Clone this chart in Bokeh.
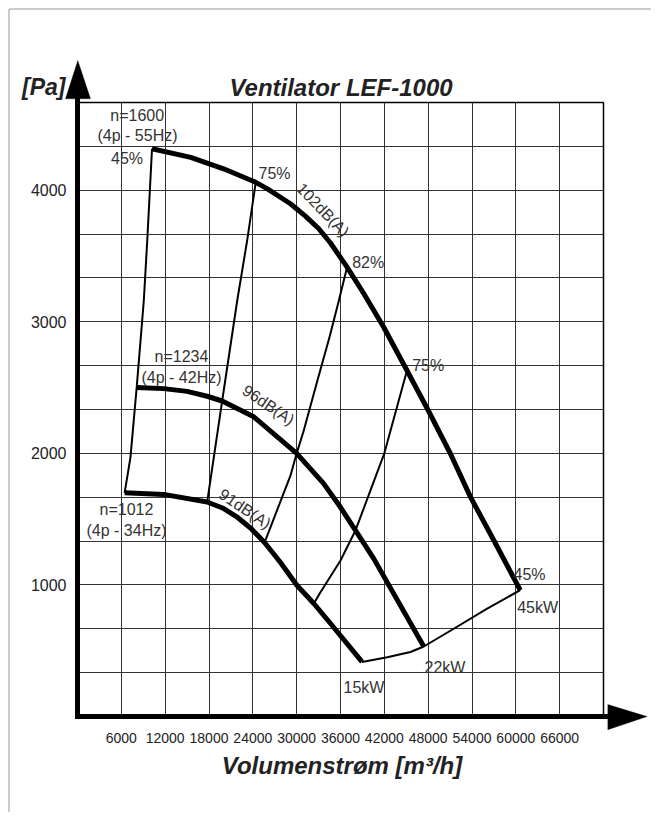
from bokeh.plotting import figure
from bokeh.models import Range1d, FixedTicker, Label, Arrow, PolyAnnotation, Grid
from bokeh.core.properties import value
from bokeh.embed import file_html
from bokeh.resources import INLINE

# ---------------- data (volume flow m3/h, pressure Pa) ----------------
n1600_q = [10200, 15500, 20000, 24400, 26000, 29150, 31200, 33000, 34630, 36900,
           39200, 41900, 45100, 48050, 51050, 53800, 57000, 60600]
n1600_p = [4315, 4250, 4163, 4060, 4010, 3897, 3803, 3709, 3599, 3415,
           3213, 2960, 2630, 2322, 1997, 1667, 1338, 960]

n1234_q = [8100, 11800, 15000, 17750, 19800, 24130, 30000, 33700, 36000, 38050, 40550, 47400]
n1234_p = [2500, 2492, 2471, 2434, 2398, 2278, 2000, 1770, 1590, 1415, 1200, 532]

n1012_q = [6450, 11800, 17750, 19850, 21760, 23680, 25600, 27790, 30000, 32350, 34630, 38950]
n1012_p = [1700, 1688, 1630, 1585, 1520, 1433, 1322, 1170, 1000, 859, 707, 415]

eff45_q = [10200, 9550, 9075, 8100, 7250, 6450]
eff45_p = [4315, 3620, 3160, 2500, 1970, 1700]

eff75l_q = [24400, 23230, 21860, 19800, 17750]
eff75l_p = [4060, 3620, 3160, 2398, 1630]

eff82_q = [36900, 35770, 34500, 32850, 30980, 30000, 29150, 25600]
eff82_p = [3415, 3160, 2885, 2555, 2175, 2000, 1830, 1322]

eff75r_q = [45100, 42000, 40100, 38050, 36000, 33260, 32350]
eff75r_p = [2630, 2000, 1718, 1414, 1186, 945, 859]

power_q = [38950, 42400, 45580, 47400, 51500, 56080, 60600]
power_p = [415, 450, 490, 532, 667, 820, 960]

x_ticks = [6000, 12000, 18000, 24000, 30000, 36000, 42000, 48000, 54000, 60000, 66000]
x_tick_labels = ["6000", "12000", "18000", "24000", "30000", "36000", "42000",
                 "48000", "54000", "60000", "66000"]
y_ticks = [1000, 2000, 3000, 4000]
y_tick_labels = ["1000", "2000", "3000", "4000"]

X_MAX = 72000
Y_STEP = 1000 / 3
Y_MAX = 14 * Y_STEP
x_grid = [6000 * i for i in range(1, 13)]
y_grid = [Y_STEP * k for k in range(1, 15)]

# ---------------- layout (canvas pixels) ----------------
W, H = 651, 812
GL, GT, GR, GB = 77, 102, 603, 716   # grid area in canvas px
FONT = "Liberation Sans"
KX = X_MAX / (GR - GL)
KY = Y_MAX / (GB - GT)


def qx(px):
    """canvas x pixel -> data x"""
    return (px - GL) * KX


def py_(py):
    """canvas y pixel -> data y"""
    return (GB - py) * KY


p = figure(width=W, height=H,
           x_range=Range1d(qx(0), qx(W)), y_range=Range1d(py_(H), py_(0)),
           output_backend="svg", toolbar_location=None, title=None,
           x_axis_location=None, y_axis_location=None,
           min_border=0, min_border_left=0, min_border_right=0,
           min_border_top=0, min_border_bottom=0)
p.background_fill_color = "white"
p.border_fill_color = "white"
p.outline_line_color = None

have_cross = "cross_bounds" in Grid.properties()
if have_cross:
    p.xgrid.ticker = FixedTicker(ticks=x_grid)
    p.ygrid.ticker = FixedTicker(ticks=y_grid)
    p.xgrid.bounds = (0, X_MAX)
    p.ygrid.bounds = (0, Y_MAX)
    p.xgrid.cross_bounds = (0, Y_MAX)
    p.ygrid.cross_bounds = (0, X_MAX)
    p.grid.grid_line_color = "#333333"
    p.grid.grid_line_width = 1
else:
    p.grid.visible = False
    p.segment(x0=x_grid, y0=[0] * len(x_grid), x1=x_grid, y1=[Y_MAX] * len(x_grid),
              line_color="#333333", line_width=1)
    p.segment(x0=[0] * len(y_grid), y0=y_grid, x1=[X_MAX] * len(y_grid), y1=y_grid,
              line_color="#333333", line_width=1)

# right and top border of the diagram
p.add_layout(Arrow(end=None, x_start=X_MAX, y_start=0, x_end=X_MAX, y_end=Y_MAX,
                   line_width=1.5, line_color="black"))
p.add_layout(Arrow(end=None, x_start=0, y_start=Y_MAX, x_end=X_MAX, y_end=Y_MAX,
                   line_width=1.5, line_color="black"))

# ---------------- tick labels ----------------
p.text(x=x_ticks, y=[0] * len(x_ticks), text=x_tick_labels, y_offset=21,
       text_font=value(FONT), text_font_size="14px", text_color="#222222",
       text_align="center", text_baseline="middle")
p.text(x=[0] * len(y_ticks), y=y_ticks, text=y_tick_labels, x_offset=-11,
       text_font=value(FONT), text_font_size="16px", text_color="#222222",
       text_align="right", text_baseline="middle")

# ---------------- curves ----------------
for q, pr in ((n1600_q, n1600_p), (n1234_q, n1234_p), (n1012_q, n1012_p)):
    p.line(q, pr, line_width=5, line_color="black", line_join="round")
for q, pr in ((eff45_q, eff45_p), (eff75l_q, eff75l_p), (eff82_q, eff82_p),
              (eff75r_q, eff75r_p), (power_q, power_p)):
    p.line(q, pr, line_width=2, line_color="black", line_join="round")

# ---------------- axes with arrows ----------------
p.add_layout(Arrow(end=None, x_start=0, y_start=py_(718.5), x_end=0, y_end=py_(96),
                   line_width=5, line_color="black"))
p.add_layout(Arrow(end=None, x_start=qx(74.5), y_start=0, x_end=qx(609), y_end=0,
                   line_width=5, line_color="black"))
p.add_layout(PolyAnnotation(xs=[qx(65), qx(90), qx(77.3)], ys=[py_(98.3), py_(98.3), py_(60)],
                            fill_color="black", fill_alpha=1, line_color="black"))
p.add_layout(PolyAnnotation(xs=[qx(607.3), qx(607.3), qx(646.7)], ys=[py_(704), py_(729.3), py_(716)],
                            fill_color="black", fill_alpha=1, line_color="black"))

# outer frame (left and top edges)
p.add_layout(Arrow(end=None, x_start=qx(8.5), y_start=py_(8.5), x_end=qx(8.5), y_end=py_(H + 5),
                   line_width=1, line_color="#999999"))
p.add_layout(Arrow(end=None, x_start=qx(8.5), y_start=py_(8.5), x_end=qx(W + 5), y_end=py_(8.5),
                   line_width=1, line_color="#999999"))


# ---------------- titles ----------------
def big(text, x, y, align, size):
    p.add_layout(Label(x=qx(x), y=py_(y), text=text, text_align=align, text_baseline="alphabetic",
                       text_font=FONT, text_font_size=size, text_font_style="bold italic",
                       text_color="#222222"))


big("[Pa]", 21.5, 86.5, "left", "23px")
big("Ventilator LEF-1000", 340.5, 86.5, "center", "24px")
big("Volumenstrøm [m³/h]", 341.5, 765, "center", "24px")


# ---------------- annotations ----------------
def lab(text, x, y, align="left", angle=0):
    p.add_layout(Label(x=qx(x), y=py_(y), text=text, text_align=align, text_baseline="middle",
                       text_font=FONT, text_font_size="16px", text_color="#333333",
                       angle=angle, angle_units="deg"))


lab("n=1600", 136.7, 115, "center")
lab("(4p - 55Hz)", 137, 135, "center")
lab("45%", 126.5, 158, "center")
lab("75%", 258, 173)
lab("102dB(A)", 322.5, 209.5, "center", -46)
lab("82%", 351.7, 261.7)
lab("75%", 411.7, 365)
lab("n=1234", 181, 356, "center")
lab("(4p - 42Hz)", 181, 376.7, "center")
lab("96dB(A)", 268, 404.5, "center", -34)
lab("n=1012", 126, 509, "center")
lab("(4p - 34Hz)", 126, 530, "center")
lab("91dB(A)", 244.5, 508.3, "center", -34)
lab("45%", 513, 574)
lab("45kW", 516.7, 606.7)
lab("22kW", 424, 667.3)
lab("15kW", 343, 686.7)

open("out.html", "w").write(file_html(p, INLINE))
